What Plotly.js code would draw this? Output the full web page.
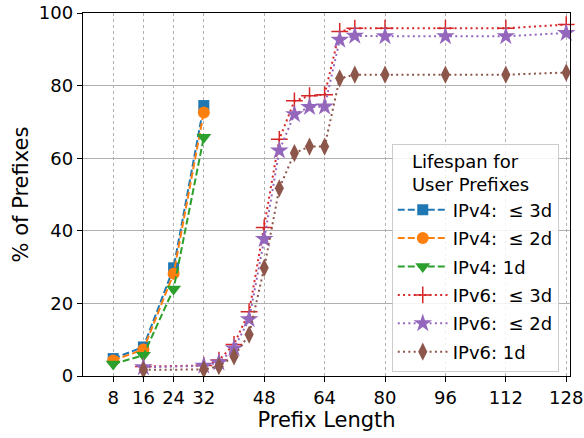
<!DOCTYPE html>
<html>
<head>
<meta charset="utf-8">
<script src="https://cdn.plot.ly/plotly-3.0.1.min.js"></script>
<style>html,body{margin:0;padding:0;background:#fff;}#chart{width:584px;height:438px;}</style>
</head>
<body>
<div id="chart"></div>
<script>
// Data
const xIPv4 = [8, 16, 24, 32];
const ipv4_3d = [4.8, 8.0, 29.8, 74.5];
const ipv4_2d = [4.3, 7.3, 28.2, 72.6];
const ipv4_1d = [3.3, 5.7, 24.0, 65.8];

const xIPv6 = [16, 32, 36, 40, 44, 48, 52, 56, 60, 64, 68, 72, 80, 96, 112, 128];
const ipv6_3d = [2.6, 2.9, 4.4, 8.7, 17.7, 40.9, 65.2, 75.8, 77.2, 77.5, 94.9, 95.8, 95.8, 95.8, 95.8, 96.8];
const ipv6_2d = [2.4, 2.8, 3.7, 7.6, 15.6, 37.7, 62.1, 72.1, 74.1, 74.2, 92.6, 93.7, 93.6, 93.6, 93.6, 94.5];
const ipv6_1d = [1.7, 1.8, 2.7, 5.4, 11.4, 29.8, 51.7, 61.4, 63.2, 63.2, 82.0, 83.0, 83.0, 83.0, 83.0, 83.6];

const seriesNames = ['IPv4:\u00a0 \u2264 3d', 'IPv4:\u00a0 \u2264 2d', 'IPv4: 1d', 'IPv6:\u00a0 \u2264 3d', 'IPv6:\u00a0 \u2264 2d', 'IPv6: 1d'];
const xTicks = [8, 16, 24, 32, 48, 64, 80, 96, 112, 128];
const yTicks = [0, 20, 40, 60, 80, 100];

function tr(x, y, name, color, dash, symbol, size, thin) {
  const t = {
    x: x, y: y, name: name, legendgroup: name,
    type: 'scatter', mode: 'lines+markers', cliponaxis: false,
    line: {color: color, dash: dash, width: 2},
    marker: {color: color, symbol: symbol, size: size, line: {width: 0}}
  };
  if (thin) t.marker.line = {color: color, width: 1.5};
  return t;
}

const DASH = '7px,3px';
const DOT = '2px,3.3px';

const data = [
  tr(xIPv4, ipv4_3d, seriesNames[0], '#1f77b4', DASH, 'square', 11),
  tr(xIPv4, ipv4_2d, seriesNames[1], '#ff7f0e', DASH, 'circle', 12),
  tr(xIPv4, ipv4_1d, seriesNames[2], '#2ca02c', DASH, 'triangle-down', 13),
  tr(xIPv6, ipv6_3d, seriesNames[3], '#d62728', DOT, 'cross-thin', 12, true),
  tr(xIPv6, ipv6_2d, seriesNames[4], '#9467bd', DOT, 'star', 14),
  tr(xIPv6, ipv6_1d, seriesNames[5], '#8c564b', DOT, 'diamond-tall', 13)
];

const font = {family: 'DejaVu Sans, sans-serif', color: '#000'};

const layout = {
  width: 584, height: 438,
  margin: {l: 83, r: 14, t: 13, b: 62},
  paper_bgcolor: '#fff', plot_bgcolor: '#fff',
  font: Object.assign({size: 18}, font),
  showlegend: true,
  xaxis: {
    range: [0, 129],
    tickmode: 'array', tickvals: xTicks, ticktext: xTicks.map(String),
    ticks: 'outside', ticklen: 5, tickcolor: '#000', tickwidth: 1,
    tickfont: Object.assign({size: 18}, font),
    showline: true, mirror: true, linecolor: '#000', linewidth: 1.2,
    showgrid: true, gridcolor: '#b0b0b0', griddash: 'dot', gridwidth: 1,
    zeroline: false,
    title: {text: 'Prefix Length', font: Object.assign({size: 21}, font), standoff: 5}
  },
  yaxis: {
    range: [0, 100],
    tickmode: 'array', tickvals: yTicks, ticktext: yTicks.map(String),
    ticks: 'outside', ticklen: 5, tickcolor: '#000', tickwidth: 1,
    tickfont: Object.assign({size: 18}, font),
    showline: true, mirror: true, linecolor: '#000', linewidth: 1.2,
    showgrid: true, gridcolor: '#b0b0b0', gridwidth: 1,
    zeroline: false,
    title: {text: '% of Prefixes', font: Object.assign({size: 21}, font), standoff: 4}
  },
  legend: {
    x: 0.634, y: 0.64, xanchor: 'left', yanchor: 'top',
    bgcolor: 'rgba(255,255,255,0.85)', bordercolor: '#cccccc', borderwidth: 1,
    font: Object.assign({size: 18}, font),
    tracegroupgap: 2, itemwidth: 50,
    title: {text: '\u00a0\u00a0\u00a0Lifespan for<br>\u00a0\u00a0\u00a0User Prefixes', side: 'top', font: Object.assign({size: 18}, font)}
  }
};

Plotly.newPlot('chart', data, layout, {displayModeBar: false, staticPlot: true});
</script>
</body>
</html>
